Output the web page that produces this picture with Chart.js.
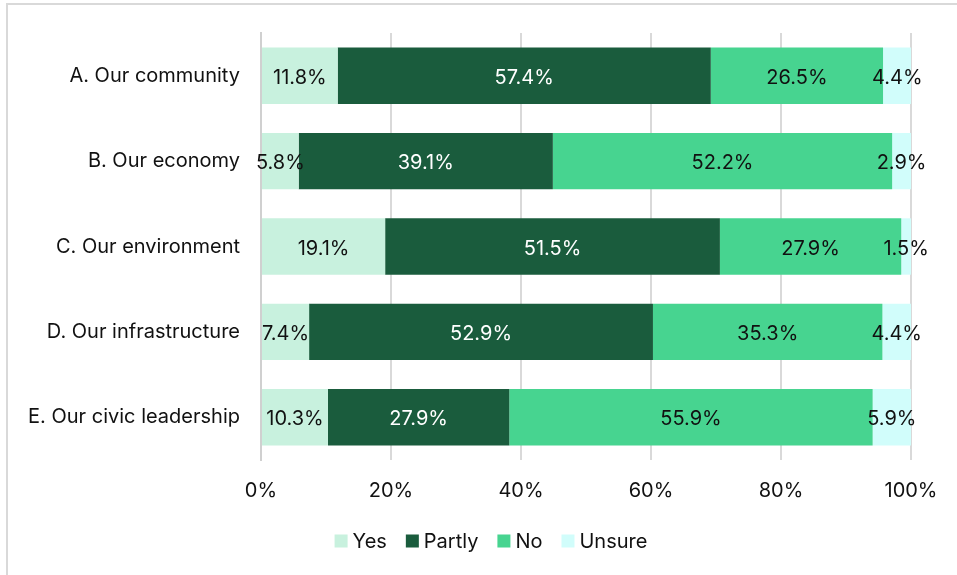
<!DOCTYPE html>
<html>
<head>
<meta charset="utf-8">
<script src="https://cdn.jsdelivr.net/npm/chart.js@4.4.1/dist/chart.umd.min.js"></script>
<style>
  html, body { margin: 0; padding: 0; background: #ffffff; }
  #wrap { position: relative; width: 957px; height: 575px; overflow: hidden; }
  #frame { position: absolute; left: 6px; top: 3px; width: 1000px; height: 700px;
           border-left: 2px solid #d9d9d9; border-top: 2px solid #d9d9d9; pointer-events: none; }
  canvas { position: absolute; left: 0; top: 0; }
</style>
</head>
<body>
<div id="wrap">
  <canvas id="chart" width="957" height="575"></canvas>
  <div id="frame"></div>
</div>
<script>
const categories = [
  'A. Our community',
  'B. Our economy',
  'C. Our environment',
  'D. Our infrastructure',
  'E. Our civic leadership'
];
const seriesNames = ['Yes', 'Partly', 'No', 'Unsure'];
const yesValues    = [11.8, 5.8, 19.1, 7.4, 10.3];
const partlyValues = [57.4, 39.1, 51.5, 52.9, 27.9];
const noValues     = [26.5, 52.2, 27.9, 35.3, 55.9];
const unsureValues = [4.4, 2.9, 1.5, 4.4, 5.9];
const xTicks = [0, 20, 40, 60, 80, 100];

const colors = ['#c8f1de', '#1a5c3d', '#47d490', '#d1fdfb'];
const labelColors = ['#111111', '#ffffff', '#111111', '#111111'];
const FONT = 'Inter, "Liberation Sans", Arial, sans-serif';

const seriesValues = [yesValues, partlyValues, noValues, unsureValues];

// Writes each segment's percentage in the middle of its bar piece
const segmentLabels = {
  id: 'segmentLabels',
  afterDatasetsDraw(chart) {
    const ctx = chart.ctx;
    ctx.save();
    ctx.font = '20px ' + FONT;
    ctx.textAlign = 'center';
    ctx.textBaseline = 'middle';
    chart.data.datasets.forEach((ds, di) => {
      const meta = chart.getDatasetMeta(di);
      meta.data.forEach((bar, i) => {
        const v = ds.data[i];
        const cx = (bar.x + bar.base) / 2;
        ctx.fillStyle = labelColors[di];
        ctx.fillText(v.toFixed(1) + '%', cx, bar.y + 2);
      });
    });
    ctx.restore();
  }
};

// Legend row under the axis: small square swatch, tight gap, then the series name
const bottomLegend = {
  id: 'bottomLegend',
  afterDraw(chart) {
    const ctx = chart.ctx;
    const box = 13, gapText = 5, gapItem = 19;
    const cy = 541;
    ctx.save();
    ctx.font = '20px ' + FONT;
    ctx.textBaseline = 'middle';
    ctx.textAlign = 'left';
    const items = chart.data.datasets.map(ds => ({
      text: ds.label,
      color: ds.backgroundColor,
      w: box + gapText + ctx.measureText(ds.label).width
    }));
    const total = items.reduce((s, it) => s + it.w, 0) + gapItem * (items.length - 1);
    let x = 491 - total / 2;
    items.forEach(it => {
      ctx.fillStyle = it.color;
      ctx.fillRect(x, cy - box / 2, box, box);
      ctx.fillStyle = '#111111';
      ctx.fillText(it.text, x + box + gapText, cy + 1);
      x += it.w + gapItem;
    });
    ctx.restore();
  }
};

new Chart(document.getElementById('chart'), {
  type: 'bar',
  data: {
    labels: categories,
    datasets: seriesNames.map((name, i) => ({
      label: name,
      data: seriesValues[i],
      backgroundColor: colors[i],
      borderWidth: 0,
      barPercentage: 0.66,
      categoryPercentage: 1.0
    }))
  },
  options: {
    indexAxis: 'y',
    responsive: false,
    animation: false,
    layout: { padding: { left: 0, right: 46, top: 33, bottom: 53 } },
    plugins: {
      legend: { display: false },
      tooltip: { enabled: false }
    },
    scales: {
      x: {
        stacked: true,
        min: 0,
        max: 100,
        afterBuildTicks(scale) { scale.ticks = xTicks.map(v => ({ value: v })); },
        afterFit(scale) { scale.height = 62; },
        grid: { color: '#d9d9d9', lineWidth: 2, drawTicks: false },
        border: { display: false },
        ticks: {
          color: '#111111',
          font: { family: FONT, size: 20 },
          padding: 19,
          callback: v => v + '%'
        }
      },
      y: {
        stacked: true,
        afterFit(scale) { scale.width = 261; },
        grid: { display: false, drawTicks: false },
        border: { display: true, color: '#d0d0d0', width: 2 },
        ticks: {
          color: '#111111',
          font: { family: FONT, size: 20 },
          padding: 21
        }
      }
    }
  },
  plugins: [segmentLabels, bottomLegend]
});
</script>
</body>
</html>
